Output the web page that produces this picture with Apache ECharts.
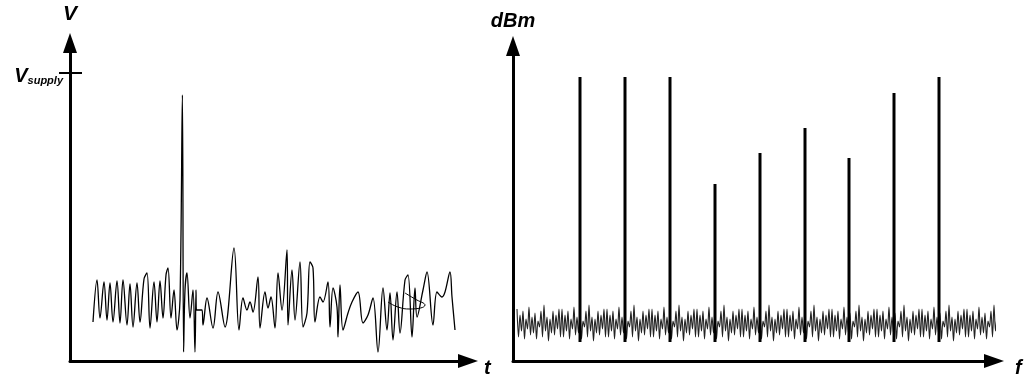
<!DOCTYPE html>
<html>
<head>
<meta charset="utf-8">
<script src="https://cdn.jsdelivr.net/npm/echarts@6/dist/echarts.min.js"></script>
<style>
  html, body { margin: 0; padding: 0; background: #fff; }
  #chart { width: 1028px; height: 377px; }
</style>
</head>
<body>
<div id="chart"></div>
<script>
// left panel: voltage over time, [t, V]
const timeTrace = [
  [5.75, 9.75], [6.75, 20.25], [7.5, 10.75], [8.5, 19.75], [9.25, 10.25], [10, 19.5],
  [10.75, 9.75], [11.75, 20], [12.5, 9.5], [13.25, 20.25], [14.25, 9], [15, 19.25],
  [15.75, 8.5], [16.75, 19.5], [17.5, 9.75], [18.5, 20.5], [19.25, 22], [20, 8.25],
  [21, 19.75], [21.75, 9.75], [22.5, 20], [23.25, 10.75], [24, 21.5], [24.5, 23.25],
  [25.25, 10.75], [26, 17.75], [26.75, 7.75], [27.5, 15.25], [28.1, 66.5], [28.4, 2.25],
  [28.75, 17.75], [29.25, 22], [30, 10.75], [30.75, 17.75], [31.25, 2.25], [31.5, 17.75],
  [31.6, 12.75], [33, 12.75], [33.25, 9], [34.25, 15.75], [35.75, 8.25], [37, 17.25],
  [38.75, 8.5], [41, 28.25], [42.25, 7.75], [43.25, 15.75], [44.25, 12.75], [45, 14.75],
  [45.75, 12.25], [47, 21], [47.5, 8.25], [48.75, 17.25], [49.5, 13.25], [50.25, 16],
  [51.25, 8.25], [52, 22], [53, 12.75], [54.25, 27.75], [54.5, 9], [55.5, 22.75],
  [56.25, 10.25], [57.5, 24.75], [58.25, 8.5], [59.25, 12], [60, 24.75], [60.75, 23.25],
  [61.25, 9.75], [62.5, 16], [63.25, 14.75], [64.5, 19.75], [65, 8.5], [65.75, 18.25],
  [66.75, 13.5], [67, 6], [67.5, 19], [68.25, 7.75], [69.5, 12], [70.5, 14.75],
  [72, 17.25], [73.25, 9.5], [74.5, 11.5], [75.75, 15.75], [77, 2.25], [78.25, 18.25],
  [79.25, 7.75], [80, 17], [80.75, 5.25], [81.75, 17.25], [82.5, 7], [83.75, 20.25],
  [84.5, 21.5], [85.5, 6], [86.25, 18.25], [86.75, 11], [88.25, 17.75], [89.25, 22.25],
  [90.75, 9], [91.75, 17.25], [93, 16], [93.75, 17.25], [95, 22.25], [95.5, 16],
  [96.25, 7.75]
]
// small loop drawn over the trace near the end
const loopTrace = [[79.5, 14.75], [82, 13.5], [85, 13], [88.75, 14], [86.25, 15.5], [83.75, 17]]
const supplyLevel = 72

// right panel: spectrum
const toneFreq = [16.75, 28, 39.25, 50.5, 61.75, 73, 84, 95.25, 106.5]
const toneLevel = [71, 71, 71, 44.25, 52, 58.25, 50.75, 67, 71]
const toneFloor = 4.75
// one period of the noise floor, the drawing repeats it along f
const floorPeriod = [13, 6, 11.5, 7.5, 12.5, 5.5, 10.5, 8, 13.5, 6.5, 11, 7, 12, 5.5, 10,
  8.5, 12.5, 6, 14, 7.5, 11, 5, 10.5, 7, 12.5, 6.5, 11.5, 8, 13, 6]
const floorStart = 1
const floorEnd = 123
const floorStep = 0.375

const floorData = []
for (let i = 0; floorStart + i * floorStep <= floorEnd; i++) {
  floorData.push([floorStart + i * floorStep, floorPeriod[i % floorPeriod.length]])
}
// each tone is a vertical stroke from the floor up to its level, '-' breaks the line
const toneData = []
toneFreq.forEach((f, i) => {
  toneData.push([f, toneFloor], [f, toneLevel[i]], [f, "-"])
})

const FONT = "Liberation Sans"
const labelStyle = { fontFamily: FONT, fontWeight: "bold", fontStyle: "italic", color: "#000" }
// x axis names sit past the arrow and a bit below the axis line
const lowName = {
  ...labelStyle, fontSize: 20, align: "left", verticalAlign: "middle",
  rich: { n: { ...labelStyle, fontSize: 20, padding: [15, 0, 0, 0] } },
}

const axisLine = {
  show: true,
  onZero: false,
  symbol: ["none", "triangle"],
  symbolSize: [14, 20],
  lineStyle: { color: "#000", width: 3 },
}

const chart = echarts.init(document.getElementById("chart"))
chart.setOption({
  animation: false,
  grid: [
    { left: 70, right: 560, top: 43, bottom: 16, outerBoundsMode: "none" },
    { left: 513, right: 34, top: 46, bottom: 16, outerBoundsMode: "none" },
  ],
  xAxis: [
    {
      gridIndex: 0, type: "value", min: 0, max: 99.5,
      axisLine, axisTick: { show: false }, axisLabel: { show: false }, splitLine: { show: false },
      name: "{n|t}", nameLocation: "end", nameGap: 16, nameTextStyle: lowName,
    },
    {
      gridIndex: 1, type: "value", min: 0, max: 120.25,
      axisLine, axisTick: { show: false }, axisLabel: { show: false }, splitLine: { show: false },
      name: "{n|f}", nameLocation: "end", nameGap: 21, nameTextStyle: lowName,
    },
  ],
  yAxis: [
    {
      gridIndex: 0, type: "value", min: 0, max: 79.5, position: "left",
      axisLine, splitLine: { show: false },
      axisTick: { show: true, customValues: [supplyLevel], length: 11, lineStyle: { color: "#000", width: 2 } },
      axisLabel: {
        show: true, customValues: [supplyLevel], margin: 7,
        formatter: () => "{v|V}{s|supply}",
        rich: {
          v: { ...labelStyle, fontSize: 20, padding: [6, 0, 0, 0] },
          s: { ...labelStyle, fontSize: 11, padding: [16, 0, 0, 0] },
        },
      },
      name: "V", nameLocation: "end", nameGap: 18,
      nameTextStyle: { ...labelStyle, fontSize: 21 },
    },
    {
      gridIndex: 0, type: "value", min: 0, max: 79.5, position: "left", offset: 0,
      axisLine: { show: false }, splitLine: { show: false }, axisLabel: { show: false },
      axisTick: { show: true, inside: true, customValues: [supplyLevel], length: 12, lineStyle: { color: "#000", width: 2 } },
    },
    {
      gridIndex: 1, type: "value", min: 0, max: 78.75,
      axisLine, axisTick: { show: false }, axisLabel: { show: false }, splitLine: { show: false },
      name: "dBm", nameLocation: "end", nameGap: 15,
      nameTextStyle: { ...labelStyle, fontSize: 20 },
    },
  ],
  series: [
    {
      type: "line", xAxisIndex: 0, yAxisIndex: 0, data: timeTrace,
      smooth: 0.35, showSymbol: false, lineStyle: { color: "#000", width: 1.3 },
    },
    {
      type: "line", xAxisIndex: 0, yAxisIndex: 0, data: loopTrace,
      smooth: 0.5, showSymbol: false, lineStyle: { color: "#000", width: 1 },
    },
    {
      type: "line", xAxisIndex: 1, yAxisIndex: 2, data: floorData, clip: false,
      smooth: 0.3, showSymbol: false, lineStyle: { color: "#222", width: 1.1 },
    },
    {
      type: "line", xAxisIndex: 1, yAxisIndex: 2, data: toneData, connectNulls: false,
      showSymbol: false, lineStyle: { color: "#000", width: 3, cap: "butt" },
    },
  ],
})
</script>
</body>
</html>
